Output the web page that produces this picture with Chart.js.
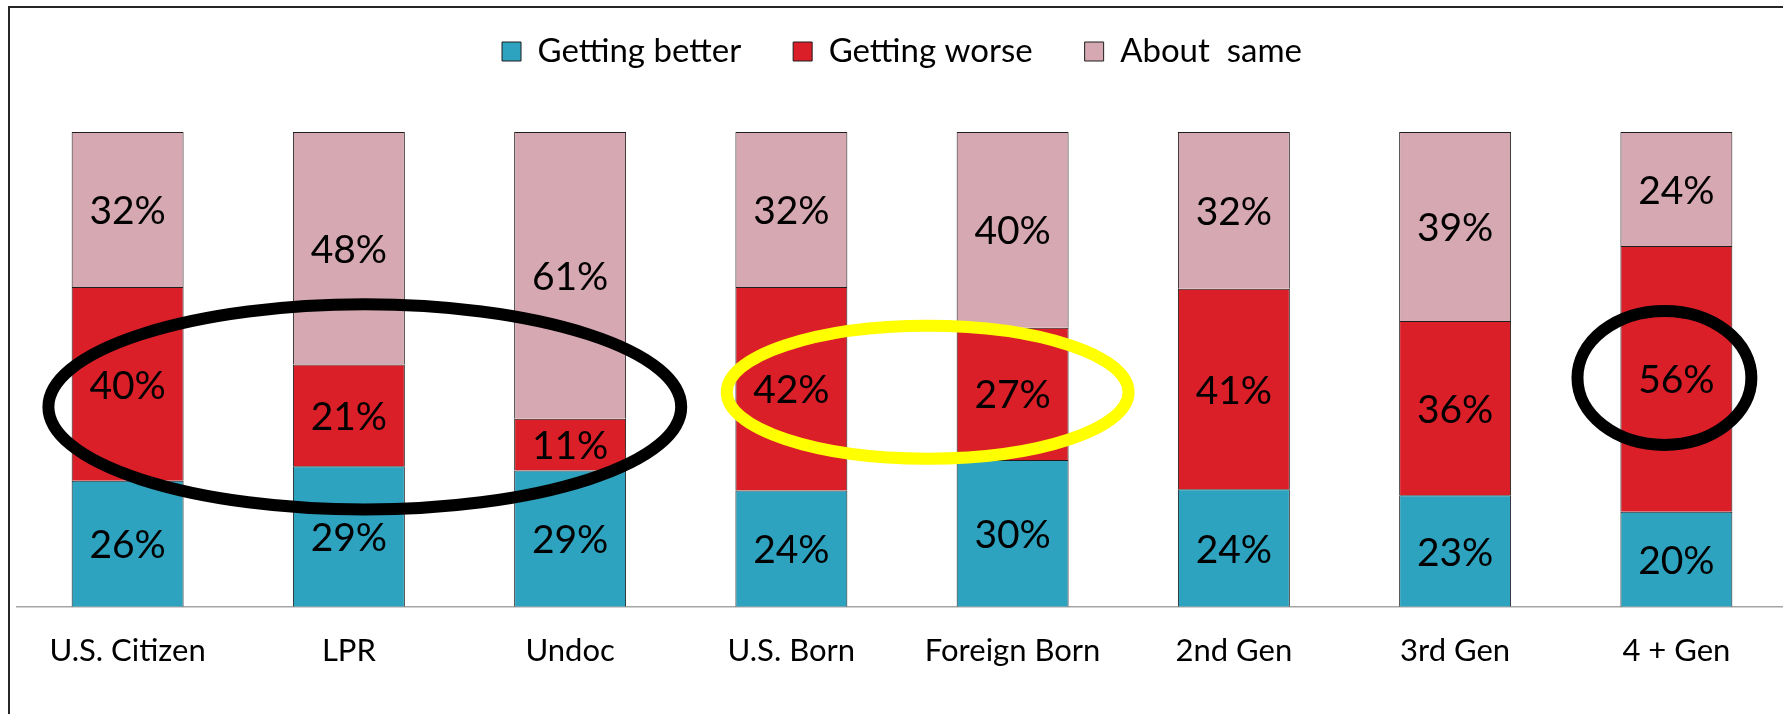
<!DOCTYPE html>
<html>
<head>
<meta charset="utf-8">
<script src="https://cdn.jsdelivr.net/npm/chart.js@4/dist/chart.umd.min.js"></script>
<style>
  html, body { margin: 0; padding: 0; overflow: hidden; background: #fff; width: 1783px; height: 714px; }
  #wrap { position: absolute; left: 0; top: 0; width: 1800px; height: 714px; }
  canvas { display: block; }
</style>
</head>
<body>
<div id="wrap"><canvas id="c" width="1800" height="714"></canvas></div>
<script>
// ---- data ----
const categories = ['U.S. Citizen', 'LPR', 'Undoc', 'U.S. Born', 'Foreign Born', '2nd Gen', '3rd Gen', '4 + Gen'];
const seriesNames = ['Getting better', 'Getting worse', 'About  same'];
const gettingBetter = [26, 29, 29, 24, 30, 24, 23, 20];
const gettingWorse  = [40, 21, 11, 42, 27, 41, 36, 56];
const aboutSame     = [32, 48, 61, 32, 40, 32, 39, 24];

// ---- styles ----
const seriesColors = ['#2DA3C0', '#DA1F29', '#D6A8B1'];
const FONT = 'Lato, "Open Sans", "DejaVu Sans", sans-serif';

// annotation ellipses (in category-index / percent units)
const highlights = [
  { cx: 1.072, cy: 42.1, rx: 1.43,  ry: 21.6, color: '#000000' },
  { cx: 3.616, cy: 45.2, rx: 0.908, ry: 14.0, color: '#FFFF00' },
  { cx: 6.946, cy: 48.2, rx: 0.393, ry: 14.1, color: '#000000' }
];

// 100% stacked: each category scaled to its own total
const rawSeries = [gettingBetter, gettingWorse, aboutSame];
const totals = categories.map((_, i) => rawSeries.reduce((s, arr) => s + arr[i], 0));
const datasets = rawSeries.map((arr, k) => ({
  label: seriesNames[k],
  data: arr.map((v, i) => v / totals[i] * 100),
  rawValues: arr,
  backgroundColor: seriesColors[k],
  borderColor: '#1E1E1E',
  borderWidth: 1,
  categoryPercentage: 1.0,
  barPercentage: 0.506
}));

const framePlugin = {
  id: 'frame',
  beforeDraw(chart) {
    const ctx = chart.ctx;
    ctx.save();
    ctx.fillStyle = '#ffffff';
    ctx.fillRect(0, 0, chart.width, chart.height);
    ctx.strokeStyle = '#262626';
    ctx.lineWidth = 2;
    ctx.beginPath();
    ctx.moveTo(9, chart.height);
    ctx.lineTo(9, 7);
    ctx.lineTo(chart.width, 7);
    ctx.stroke();
    ctx.restore();
  }
};

const labelPlugin = {
  id: 'segLabels',
  afterDatasetsDraw(chart) {
    const ctx = chart.ctx;
    ctx.save();
    ctx.font = '39px ' + FONT;
    ctx.fillStyle = '#000000';
    ctx.textAlign = 'center';
    ctx.textBaseline = 'middle';
    chart.data.datasets.forEach((ds, di) => {
      const meta = chart.getDatasetMeta(di);
      meta.data.forEach((el, i) => {
        const p = el.getProps(['x', 'y', 'base'], true);
        ctx.fillText(ds.rawValues[i] + '%', p.x, (p.y + p.base) / 2 + 2);
      });
    });
    ctx.restore();
  }
};

const ellipsePlugin = {
  id: 'highlights',
  afterDraw(chart) {
    const xs = chart.scales.x, ys = chart.scales.y;
    const ctx = chart.ctx;
    ctx.save();
    highlights.forEach(h => {
      const cx = xs.getPixelForValue(h.cx);
      const rx = Math.abs(xs.getPixelForValue(h.cx + h.rx) - cx);
      const cy = ys.getPixelForValue(h.cy);
      const ry = Math.abs(ys.getPixelForValue(h.cy + h.ry) - cy);
      ctx.beginPath();
      ctx.ellipse(cx, cy, rx, ry, 0, 0, Math.PI * 2);
      ctx.strokeStyle = h.color;
      ctx.lineWidth = 12;
      ctx.stroke();
    });
    ctx.restore();
  }
};

new Chart(document.getElementById('c'), {
  type: 'bar',
  data: { labels: categories, datasets },
  plugins: [framePlugin, labelPlugin, ellipsePlugin],
  options: {
    responsive: false,
    animation: false,
    devicePixelRatio: 1,
    layout: { padding: { left: 17, right: 13, top: -17, bottom: 26 } },
    plugins: {
      legend: {
        position: 'top',
        labels: {
          font: { family: FONT, size: 33 },
          color: '#000000',
          boxWidth: 19,
          boxHeight: 19,
          padding: 52
        }
      },
      tooltip: { enabled: false }
    },
    scales: {
      x: {
        stacked: true,
        grid: { display: false },
        border: { display: true, color: '#A6A6A6', width: 1.5 },
        ticks: { font: { family: FONT, size: 31 }, color: '#000000', padding: 18, maxRotation: 0, autoSkip: false }
      },
      xTop: {
        type: 'category',
        position: 'top',
        labels: categories,
        grid: { display: false },
        border: { display: false },
        ticks: { display: false },
        afterFit(s) { s.height = 54; }
      },
      y: {
        stacked: true,
        display: false,
        min: 0,
        max: 100
      }
    }
  }
});
</script>
</body>
</html>
